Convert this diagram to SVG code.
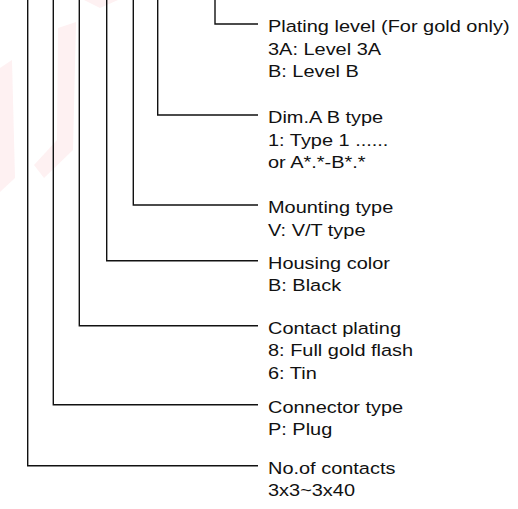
<svg xmlns="http://www.w3.org/2000/svg" width="518" height="509" viewBox="0 0 518 509">
<style>
.ln{fill:none;stroke:#111;stroke-width:1.4}
.t{font-family:"Liberation Sans",Arial,sans-serif;font-size:17.2px;fill:#111}
</style>
<rect width="518" height="509" fill="#fff"/>
<g id="watermark" fill="#e8101a" fill-opacity="0.06">
<path d="M58,28 L76,22 L73,150 L44,178 L34,165 L57,140 Z"/>
<path d="M0,68 L12,60 L15,178 L0,192 Z"/>
<path d="M84,0 L118,0 L100,8 Z"/>
</g>
<g id="connectors">
<path class="ln" d="M215,0 V24 H258"/>
<path class="ln" d="M157.7,0 V115 H258"/>
<path class="ln" d="M133.3,0 V205 H258"/>
<path class="ln" d="M106.7,0 V260.7 H258"/>
<path class="ln" d="M79.3,0 V325.7 H258"/>
<path class="ln" d="M53.3,0 V404.7 H258"/>
<path class="ln" d="M27.7,0 V465.7 H258"/>
</g>
<g id="plating-level" transform="translate(268,0) scale(1.16,1)">
<text class="t" x="0" y="32.5">Plating level (For gold only)</text>
<text class="t" x="0" y="55">3A: Level 3A</text>
<text class="t" x="0" y="77.5">B: Level B</text>
</g>
<g id="dim-ab-type" transform="translate(268,0) scale(1.16,1)">
<text class="t" x="0" y="123.5">Dim.A B type</text>
<text class="t" x="0" y="146">1: Type 1 ......</text>
<text class="t" x="0" y="168.5">or A*.*-B*.*</text>
</g>
<g id="mounting-type" transform="translate(268,0) scale(1.16,1)">
<text class="t" x="0" y="213.5">Mounting type</text>
<text class="t" x="0" y="236">V: V/T type</text>
</g>
<g id="housing-color" transform="translate(268,0) scale(1.16,1)">
<text class="t" x="0" y="269">Housing color</text>
<text class="t" x="0" y="291.5">B: Black</text>
</g>
<g id="contact-plating" transform="translate(268,0) scale(1.16,1)">
<text class="t" x="0" y="334">Contact plating</text>
<text class="t" x="0" y="356.5">8: Full gold flash</text>
<text class="t" x="0" y="379">6: Tin</text>
</g>
<g id="connector-type" transform="translate(268,0) scale(1.16,1)">
<text class="t" x="0" y="413">Connector type</text>
<text class="t" x="0" y="435.5">P: Plug</text>
</g>
<g id="no-of-contacts" transform="translate(268,0) scale(1.16,1)">
<text class="t" x="0" y="474">No.of contacts</text>
<text class="t" x="0" y="496.5">3x3~3x40</text>
</g>
</svg>
